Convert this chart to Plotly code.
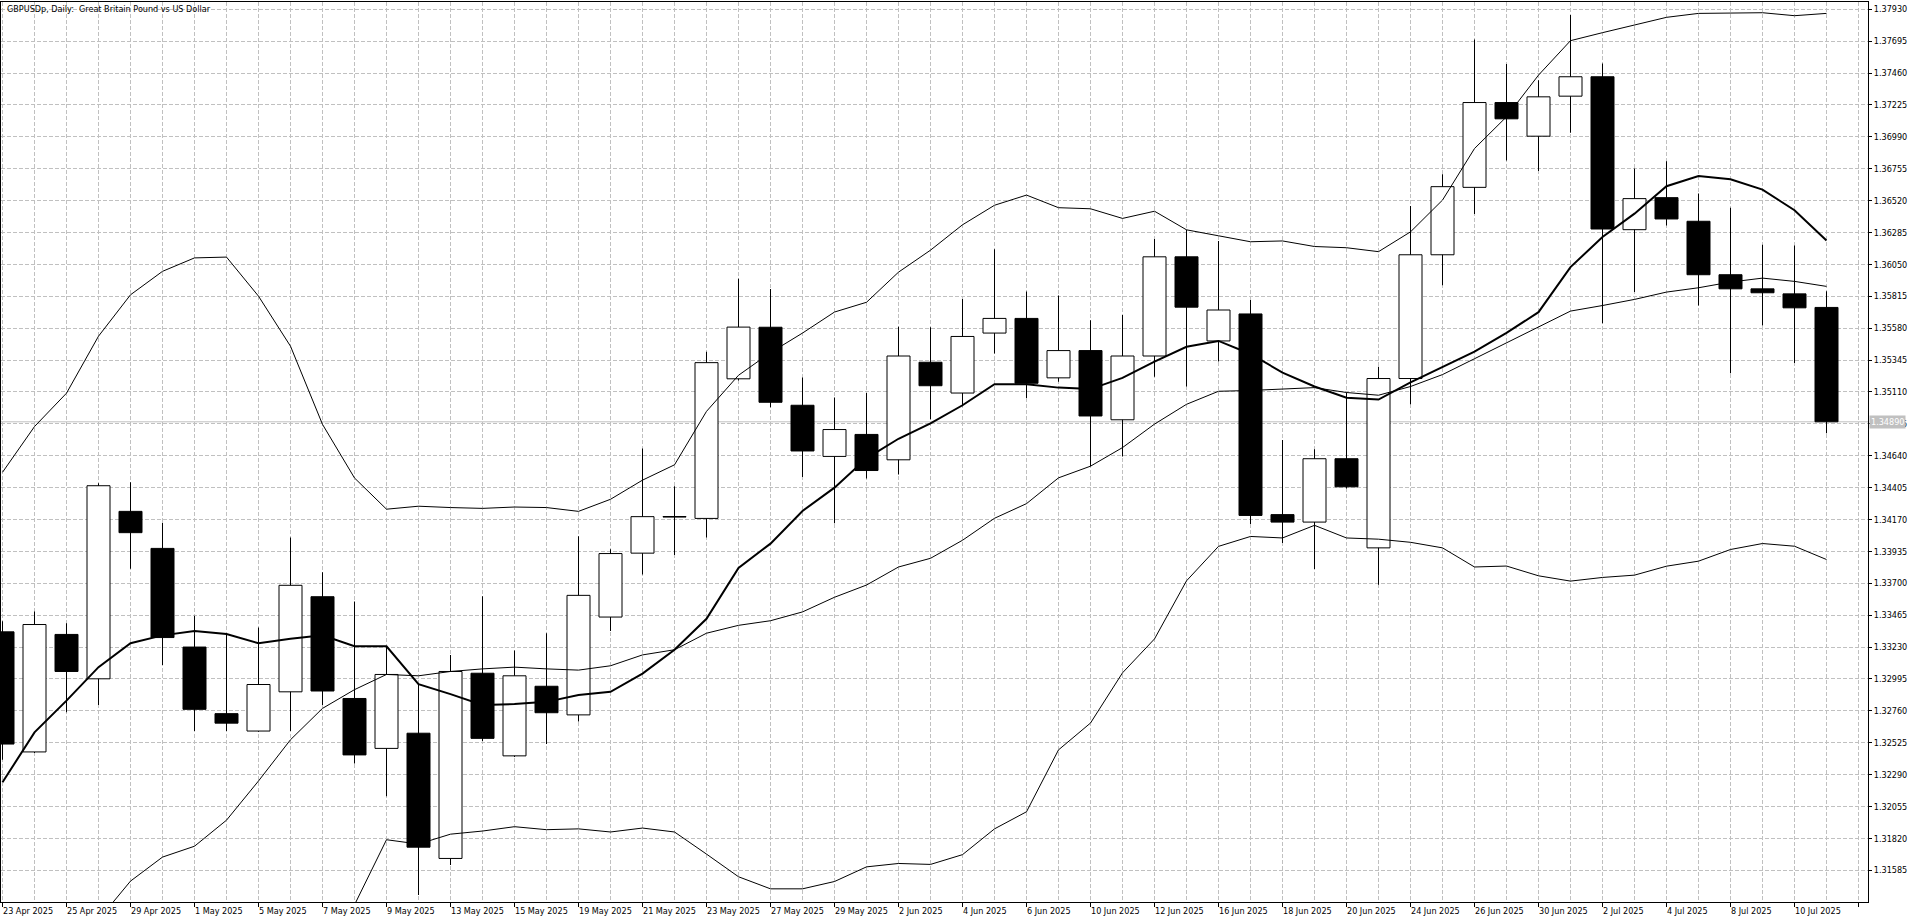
import plotly.graph_objects as go

# GBPUSDp daily bars, 23 Apr 2025 .. 11 Jul 2025
dates = ["23 Apr 2025", "24 Apr 2025", "25 Apr 2025", "28 Apr 2025", "29 Apr 2025", "30 Apr 2025",
         "1 May 2025", "2 May 2025", "5 May 2025", "6 May 2025", "7 May 2025", "8 May 2025",
         "9 May 2025", "12 May 2025", "13 May 2025", "14 May 2025", "15 May 2025", "16 May 2025",
         "19 May 2025", "20 May 2025", "21 May 2025", "22 May 2025", "23 May 2025", "26 May 2025",
         "27 May 2025", "28 May 2025", "29 May 2025", "30 May 2025", "2 Jun 2025", "3 Jun 2025",
         "4 Jun 2025", "5 Jun 2025", "6 Jun 2025", "9 Jun 2025", "10 Jun 2025", "11 Jun 2025",
         "12 Jun 2025", "13 Jun 2025", "16 Jun 2025", "17 Jun 2025", "18 Jun 2025", "19 Jun 2025",
         "20 Jun 2025", "23 Jun 2025", "24 Jun 2025", "25 Jun 2025", "26 Jun 2025", "27 Jun 2025",
         "30 Jun 2025", "1 Jul 2025", "2 Jul 2025", "3 Jul 2025", "4 Jul 2025", "7 Jul 2025",
         "8 Jul 2025", "9 Jul 2025", "10 Jul 2025", "11 Jul 2025"]

opens = [1.33342, 1.32457, 1.33323, 1.32996, 1.34230, 1.33957, 1.33230, 1.32739, 1.32611, 1.32900,
         1.33601, 1.32851, 1.32483, 1.32595, 1.31672, 1.33037, 1.32428, 1.32941, 1.32730, 1.33451,
         1.33922, 1.34192, 1.34178, 1.35207, 1.35587, 1.35012, 1.34635, 1.34797, 1.34610, 1.35329,
         1.35102, 1.35544, 1.35652, 1.35214, 1.35415, 1.34905, 1.35375, 1.36106, 1.35486, 1.35685,
         1.34206, 1.34151, 1.34618, 1.33961, 1.35209, 1.36121, 1.36618, 1.37243, 1.36995, 1.37290,
         1.37433, 1.36306, 1.36542, 1.36368, 1.35974, 1.35870, 1.35833, 1.35733]
highs = [1.33420, 1.33492, 1.33406, 1.34438, 1.34444, 1.34146, 1.33460, 1.33332, 1.33374, 1.34037,
         1.33781, 1.33566, 1.33236, 1.32964, 1.33172, 1.33605, 1.33204, 1.33332, 1.34047, 1.33951,
         1.34694, 1.34415, 1.35406, 1.35944, 1.35868, 1.35217, 1.35070, 1.35102, 1.35591, 1.35587,
         1.35796, 1.36162, 1.35850, 1.35821, 1.35638, 1.35677, 1.36238, 1.36305, 1.36223, 1.35787,
         1.34756, 1.34688, 1.35106, 1.35296, 1.36480, 1.36714, 1.37708, 1.37527, 1.37408, 1.37888,
         1.37531, 1.36756, 1.36810, 1.36572, 1.36468, 1.36195, 1.36190, 1.35853]
lows = [1.32400, 1.32450, 1.32749, 1.32803, 1.33807, 1.33098, 1.32611, 1.32611, 1.32605, 1.32611,
        1.32803, 1.32371, 1.32130, 1.31403, 1.31624, 1.32537, 1.32420, 1.32515, 1.32682, 1.33348,
        1.33765, 1.33909, 1.34037, 1.35195, 1.34998, 1.34484, 1.34143, 1.34473, 1.34502, 1.34908,
        1.35005, 1.35393, 1.35066, 1.35185, 1.34563, 1.34635, 1.35223, 1.35150, 1.35334, 1.34136,
        1.33996, 1.33806, 1.34399, 1.33689, 1.35019, 1.35896, 1.36422, 1.36816, 1.36739, 1.37020,
        1.35617, 1.35846, 1.36336, 1.35747, 1.35248, 1.35600, 1.35324, 1.34805]
closes = [1.32515, 1.33396, 1.33050, 1.34419, 1.34073, 1.33300, 1.32771, 1.32669, 1.32954, 1.33685,
          1.32906, 1.32435, 1.33028, 1.31755, 1.33050, 1.32557, 1.33018, 1.32746, 1.33611, 1.33919,
          1.34191, 1.34188, 1.35326, 1.35588, 1.35034, 1.34675, 1.34833, 1.34531, 1.35375, 1.35156,
          1.35519, 1.35652, 1.35174, 1.35415, 1.34933, 1.35375, 1.36106, 1.35735, 1.35714, 1.34200,
          1.34151, 1.34618, 1.34411, 1.35209, 1.36121, 1.36623, 1.37243, 1.37123, 1.37285, 1.37433,
          1.36311, 1.36535, 1.36385, 1.35974, 1.35870, 1.35841, 1.35730, 1.34890]

# thick moving average
ma = [1.32233, 1.32601, 1.32835, 1.33082, 1.33258, 1.33316, 1.33348, 1.33326, 1.33258, 1.33291,
      1.33316, 1.33236, 1.33236, 1.32957, 1.32883, 1.32803, 1.32810, 1.32826, 1.32877, 1.32900,
      1.33034, 1.33210, 1.33438, 1.33813, 1.33992, 1.34233, 1.34405, 1.34621, 1.34765, 1.34879,
      1.35012, 1.35167, 1.35167, 1.35142, 1.35131, 1.35214, 1.35334, 1.35443, 1.35486, 1.35390,
      1.35253, 1.35150, 1.35068, 1.35054, 1.35180, 1.35291, 1.35408, 1.35545, 1.35698, 1.36030,
      1.36252, 1.36424, 1.36626, 1.36702, 1.36678, 1.36601, 1.36449, 1.36227]

# bollinger bands
bb_upper = [1.34518, 1.34855, 1.35101, 1.35521, 1.35826, 1.35999, 1.36098, 1.36104, 1.35816, 1.35447,
            1.34871, 1.34476, 1.34246, 1.34268, 1.34258, 1.34252, 1.34262, 1.34258, 1.34230, 1.34319,
            1.34460, 1.34573, 1.34967, 1.35233, 1.35400, 1.35544, 1.35699, 1.35771, 1.35993, 1.36155,
            1.36342, 1.36486, 1.36561, 1.36468, 1.36460, 1.36389, 1.36442, 1.36305, 1.36261, 1.36217,
            1.36223, 1.36182, 1.36173, 1.36144, 1.36290, 1.36524, 1.36904, 1.37138, 1.37445, 1.37699,
            1.37758, 1.37814, 1.37871, 1.37900, 1.37900, 1.37905, 1.37883, 1.37900]
bb_middle = [1.30450, 1.30700, 1.30950, 1.31220, 1.31505, 1.31682, 1.31762, 1.31954, 1.32243, 1.32547,
             1.32778, 1.32916, 1.33028, 1.33018, 1.33050, 1.33069, 1.33082, 1.33069, 1.33060, 1.33092,
             1.33172, 1.33210, 1.33332, 1.33390, 1.33424, 1.33489, 1.33597, 1.33687, 1.33820, 1.33884,
             1.34017, 1.34179, 1.34287, 1.34477, 1.34563, 1.34700, 1.34873, 1.35019, 1.35115, 1.35121,
             1.35130, 1.35142, 1.35106, 1.35086, 1.35150, 1.35238, 1.35355, 1.35472, 1.35587, 1.35706,
             1.35747, 1.35792, 1.35846, 1.35878, 1.35920, 1.35949, 1.35925, 1.35888]
bb_lower = [None, None, None, None, None, None, None, None, None, None,
            1.30680, 1.31330, 1.31810, 1.31778, 1.31851, 1.31874, 1.31906, 1.31884, 1.31890, 1.31867,
            1.31896, 1.31867, 1.31704, 1.31537, 1.31448, 1.31448, 1.31502, 1.31610, 1.31635, 1.31628,
            1.31700, 1.31890, 1.32016, 1.32472, 1.32670, 1.33040, 1.33290, 1.33718, 1.33972, 1.34045,
            1.34034, 1.34127, 1.34034, 1.34025, 1.34002, 1.33961, 1.33820, 1.33827, 1.33755, 1.33716,
            1.33743, 1.33760, 1.33826, 1.33863, 1.33949, 1.33993, 1.33973, 1.33875]

title_text = "GBPUSDp, Daily:\u00a0 Great Britain Pound vs US Dollar"
bid_price = 1.34890

FONT = "DejaVu Sans Condensed, DejaVu Sans, sans-serif"
GRID = "#c0c0c0"

idx = list(range(len(dates)))
body_base = [min(o, c) for o, c in zip(opens, closes)]
body_len = [max(abs(c - o), 0.00003) for o, c in zip(opens, closes)]
body_col = ["white" if c > o else "black" for o, c in zip(opens, closes)]

fig = go.Figure()

# wicks
fig.add_trace(go.Bar(x=idx, base=lows, y=[h - l for h, l in zip(highs, lows)],
                     width=1 / 32, marker=dict(color="black", line=dict(width=0)),
                     hoverinfo="skip"))
# bodies
fig.add_trace(go.Bar(x=idx, base=body_base, y=body_len, width=0.71875,
                     marker=dict(color=body_col, line=dict(color="black", width=1)),
                     hoverinfo="skip"))

for band in (bb_upper, bb_middle, bb_lower):
    fig.add_trace(go.Scatter(x=idx, y=band, mode="lines",
                             line=dict(color="black", width=1), hoverinfo="skip"))
fig.add_trace(go.Scatter(x=idx, y=ma, mode="lines",
                         line=dict(color="black", width=2), hoverinfo="skip"))

annotations = [dict(text=title_text, x=0, y=1, xref="paper", yref="paper",
                    xanchor="left", yanchor="top", xshift=4, yshift=0, showarrow=False,
                    font=dict(family=FONT, size=9, color="black"))]
for i in range(0, len(dates), 2):
    annotations.append(dict(text=dates[i], x=i, y=0, xref="x", yref="paper",
                            xanchor="left", yanchor="top", xshift=-2, yshift=-2,
                            showarrow=False, font=dict(family=FONT, size=9, color="black")))
annotations.append(dict(text=f"{bid_price:.5f}", x=1, y=bid_price, xref="paper", yref="y",
                        xanchor="left", yanchor="middle", xshift=1, showarrow=False,
                        bgcolor="#c0c0c0", borderpad=1,
                        font=dict(family=FONT, size=9, color="white")))

fig.update_layout(
    width=1920, height=923,
    margin=dict(l=1, r=52, t=2, b=21),
    paper_bgcolor="white", plot_bgcolor="white",
    barmode="overlay", showlegend=False,
    font=dict(family=FONT, size=9, color="black"),
    xaxis=dict(range=[-0.046875, 58.296875], tickmode="linear", tick0=0, dtick=2,
               ticks="outside", ticklen=4, tickcolor="black", showticklabels=False,
               showgrid=True, gridcolor=GRID, griddash="4px,2px", gridwidth=1,
               minor=dict(tick0=0, dtick=1, showgrid=True, gridcolor=GRID,
                          griddash="4px,2px", ticks=""),
               showline=True, linecolor="black", linewidth=1, mirror=True, zeroline=False),
    yaxis=dict(side="right", range=[1.31351, 1.37984], tickmode="linear",
               tick0=1.31585, dtick=0.00235, tickformat=".5f",
               ticks="outside", ticklen=3, tickcolor="black",
               showgrid=True, gridcolor=GRID, griddash="4px,2px", gridwidth=1,
               showline=True, linecolor="black", linewidth=1, mirror=True, zeroline=False),
    shapes=[dict(type="line", xref="paper", x0=0, x1=1, yref="y", y0=bid_price, y1=bid_price,
                 line=dict(color=GRID, width=1), layer="between")],
    annotations=annotations,
)

fig.write_html("out.html", config={"displayModeBar": False},
               post_script="document.body.style.margin='0';document.body.style.overflow='hidden';")
